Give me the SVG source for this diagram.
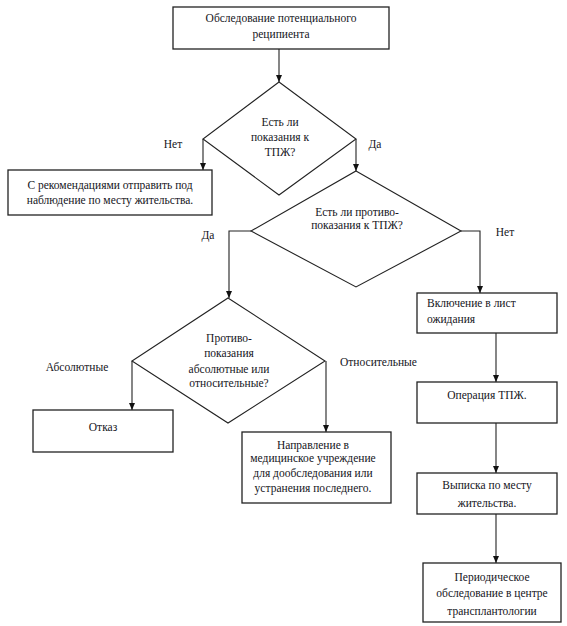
<svg xmlns="http://www.w3.org/2000/svg" width="567" height="626" viewBox="0 0 567 626">
<style>
.box{fill:#fff;stroke:#222;stroke-width:1.3}
.dia{fill:#fff;stroke:#222;stroke-width:1.1}
.t{font-family:'Liberation Serif','Times New Roman','DejaVu Serif',serif;font-size:11.5px;fill:#151522;text-anchor:middle}
.l{text-anchor:start}
</style>
<defs>
<marker id="ad" viewBox="0 0 7 6" refX="7" refY="3" markerWidth="7" markerHeight="6" markerUnits="userSpaceOnUse" orient="auto">
<path d="M0,0 L7,3 L0,6 Z" fill="#111"/>
</marker>
</defs>
<rect width="567" height="626" fill="#fff"/>
<g id="connectors" fill="none" stroke="#222" stroke-width="1.1">
<path d="M279,49 V82" marker-end="url(#ad)"/>
<path d="M203,139 V170" marker-end="url(#ad)"/>
<path d="M356,139 V171" marker-end="url(#ad)"/>
<path d="M251,231 H229 V298" marker-end="url(#ad)"/>
<path d="M461,231 H480 V293" marker-end="url(#ad)"/>
<path d="M132,361 V410" marker-end="url(#ad)"/>
<path d="M326,361 V432" marker-end="url(#ad)"/>
<path d="M496,333 V382" marker-end="url(#ad)"/>
<path d="M496,423 V473" marker-end="url(#ad)"/>
<path d="M496,514 V563" marker-end="url(#ad)"/>
</g>
<g font-family="Liberation Serif, serif">
<g id="n1"><rect class="box" x="173" y="7" width="216" height="42"/>
<text class="t" x="281" y="22">Обследование потенциального</text>
<text class="t" x="281" y="38">реципиента</text></g>
<g id="d1"><polygon class="dia" points="279,82 356,139 279,195 203,139"/>
<text class="t" x="280" y="126">Есть ли</text>
<text class="t" x="280" y="141">показания к</text>
<text class="t" x="280" y="156">ТПЖ?</text></g>
<g id="lbl1"><text class="t" x="173" y="148">Нет</text><text class="t" x="375" y="148">Да</text></g>
<g id="n2"><rect class="box" x="8" y="170" width="204" height="45"/>
<text class="t" x="110" y="189">С рекомендациями отправить под</text>
<text class="t" x="110" y="204">наблюдение по месту жительства.</text></g>
<g id="d2"><polygon class="dia" points="356,171 461,231 356,287 251,231"/>
<text class="t" x="357" y="216">Есть ли противо-</text>
<text class="t" x="357" y="229">показания к ТПЖ?</text></g>
<g id="lbl2"><text class="t" x="208" y="239">Да</text><text class="t" x="505" y="236">Нет</text></g>
<g id="n3"><rect class="box" x="417" y="293" width="140" height="40"/>
<text class="t l" x="427" y="307">Включение в лист</text>
<text class="t l" x="427" y="323">ожидания</text></g>
<g id="d3"><polygon class="dia" points="228,298 325,361 228,423 132,361"/>
<text class="t" x="229" y="342">Противо-</text>
<text class="t" x="229" y="357">показания</text>
<text class="t" x="229" y="373">абсолютные или</text>
<text class="t" x="229" y="387">относительные?</text></g>
<g id="lbl3"><text class="t" x="77" y="371">Абсолютные</text><text class="t l" x="340" y="366">Относительные</text></g>
<g id="n4"><rect class="box" x="33" y="410" width="140" height="42"/>
<text class="t" x="103" y="431">Отказ</text></g>
<g id="n5"><rect class="box" x="242" y="432" width="149" height="71"/>
<text class="t" x="313" y="449">Направление в</text>
<text class="t" x="313" y="462">медицинское учреждение</text>
<text class="t" x="313" y="477">для дообследования или</text>
<text class="t" x="313" y="492">устранения последнего.</text></g>
<g id="n6"><rect class="box" x="417" y="382" width="140" height="41"/>
<text class="t" x="487" y="399">Операция ТПЖ.</text></g>
<g id="n7"><rect class="box" x="417" y="473" width="140" height="41"/>
<text class="t" x="487" y="489">Выписка по месту</text>
<text class="t" x="487" y="507">жительства.</text></g>
<g id="n8"><rect class="box" x="423" y="563" width="138" height="59"/>
<text class="t" x="492" y="581">Периодическое</text>
<text class="t" x="492" y="597">обследование в центре</text>
<text class="t" x="492" y="615">трансплантологии</text></g>
</g>
</svg>
